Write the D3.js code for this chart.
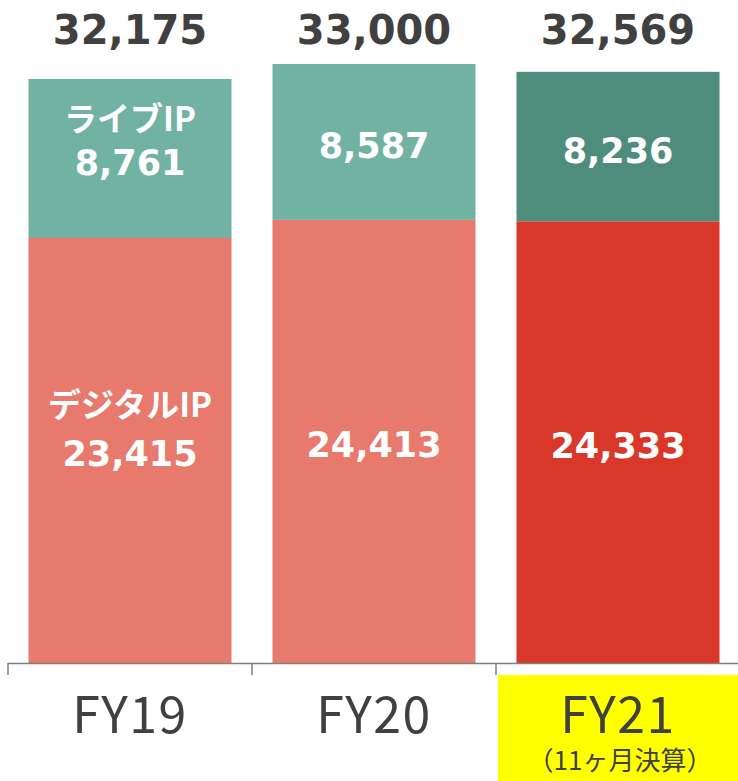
<!DOCTYPE html>
<html><head><meta charset="utf-8">
<script src="https://cdn.jsdelivr.net/npm/d3@7/dist/d3.min.js"></script>
<style>body{margin:0;background:#fff}svg{display:block}</style>
</head><body>
<script>
const categories = ["FY19", "FY20", "FY21"];
const digitalIP = [23415, 24413, 24333];
const liveIP = [8761, 8587, 8236];
const totals = [32175, 33000, 32569];
const seriesNames = ["デジタルIP", "ライブIP"];
const subNote = "（11ヶ月決算）";

const W = 738, H = 781;
const jpFont = "'Noto Sans CJK JP', 'DejaVu Sans', sans-serif";
const numFont = "'DejaVu Sans', 'Noto Sans CJK JP', sans-serif";
const svg = d3.select("body").append("svg").attr("width", W).attr("height", H);

const x = d3.scaleBand().domain(categories).range([8, 740]).paddingInner(0.168).paddingOuter(0.084);
const y = d3.scaleLinear().domain([0, 33000]).range([663, 64]);

const colDigital = ["#E87A6D", "#E87A6D", "#D9372A"];
const colLive = ["#72B2A3", "#72B2A3", "#4E8C7C"];

const rows = categories.map((c, i) => ({c, i, d: digitalIP[i], l: liveIP[i], t: totals[i]}));

// yellow highlight behind FY21 label
const hlX = x(categories[2]) - x.step() * x.paddingInner() / 2 + 2;
svg.append("rect").attr("x", hlX).attr("y", 675)
  .attr("width", W - hlX).attr("height", H - 675).attr("fill", "#FFFF00");

svg.selectAll("rect.dig").data(rows).join("rect").attr("class", "dig")
  .attr("x", r => x(r.c)).attr("width", x.bandwidth())
  .attr("y", r => y(r.d)).attr("height", r => y(0) - y(r.d))
  .attr("fill", r => colDigital[r.i]);
svg.selectAll("rect.live").data(rows).join("rect").attr("class", "live")
  .attr("x", r => x(r.c)).attr("width", x.bandwidth())
  .attr("y", r => y(r.d + r.l)).attr("height", r => y(r.d) - y(r.d + r.l))
  .attr("fill", r => colLive[r.i]);

const fmt = d3.format(",");
const cx = r => x(r.c) + x.bandwidth() / 2;

const valLabels = [], nameLabels = [];
rows.forEach(r => {
  const md = (y(0) + y(r.d)) / 2, ml = (y(r.d) + y(r.d + r.l)) / 2;
  valLabels.push({x: cx(r), y: md + 16, t: fmt(r.d)});
  valLabels.push({x: cx(r), y: ml + 16.5, t: fmt(r.l)});
  if (r.i === 0) {
    nameLabels.push({x: cx(r), y: md + 16 - 49, t: seriesNames[0]});
    nameLabels.push({x: cx(r), y: ml + 16.5 - 44, t: seriesNames[1]});
  }
});
svg.selectAll("text.val").data(valLabels).join("text").attr("class", "val")
  .attr("x", d => d.x).attr("y", d => d.y).attr("text-anchor", "middle")
  .attr("font-family", numFont).attr("font-weight", "bold").attr("font-size", 35)
  .attr("fill", "#fff").text(d => d.t);
svg.selectAll("text.nm").data(nameLabels).join("text").attr("class", "nm")
  .attr("x", d => d.x).attr("y", d => d.y).attr("text-anchor", "middle")
  .attr("font-family", jpFont).attr("font-weight", "bold").attr("font-size", 33)
  .attr("fill", "#fff").text(d => d.t);

svg.selectAll("text.tot").data(rows).join("text").attr("class", "tot")
  .attr("x", cx).attr("y", 44).attr("text-anchor", "middle")
  .attr("font-family", numFont).attr("font-weight", "bold").attr("font-size", 40)
  .attr("fill", "#404040").text(r => fmt(r.t));

// axis with ticks at category boundaries
const ax = svg.append("g").attr("stroke", "#7f7f7f").attr("stroke-width", 1.5);
ax.append("line").attr("x1", 8).attr("x2", 740).attr("y1", 663.5).attr("y2", 663.5);
const bounds = categories.map(c => x(c) - x.step() * x.paddingInner() / 2).concat([740]);
ax.selectAll("line.tk").data(bounds).join("line").attr("class", "tk")
  .attr("x1", d => d).attr("x2", d => d).attr("y1", 663).attr("y2", 675);

svg.selectAll("text.cat").data(rows).join("text").attr("class", "cat")
  .attr("x", cx).attr("y", 733).attr("text-anchor", "middle")
  .attr("font-family", jpFont).attr("font-size", 50).attr("letter-spacing", 1.5)
  .attr("fill", "#404040").text(r => r.c);

svg.append("text").attr("x", cx(rows[2]) + 2).attr("y", 770).attr("text-anchor", "middle")
  .attr("font-family", jpFont).attr("font-size", 26).attr("fill", "#404040").text(subNote);
</script>
</body></html>
